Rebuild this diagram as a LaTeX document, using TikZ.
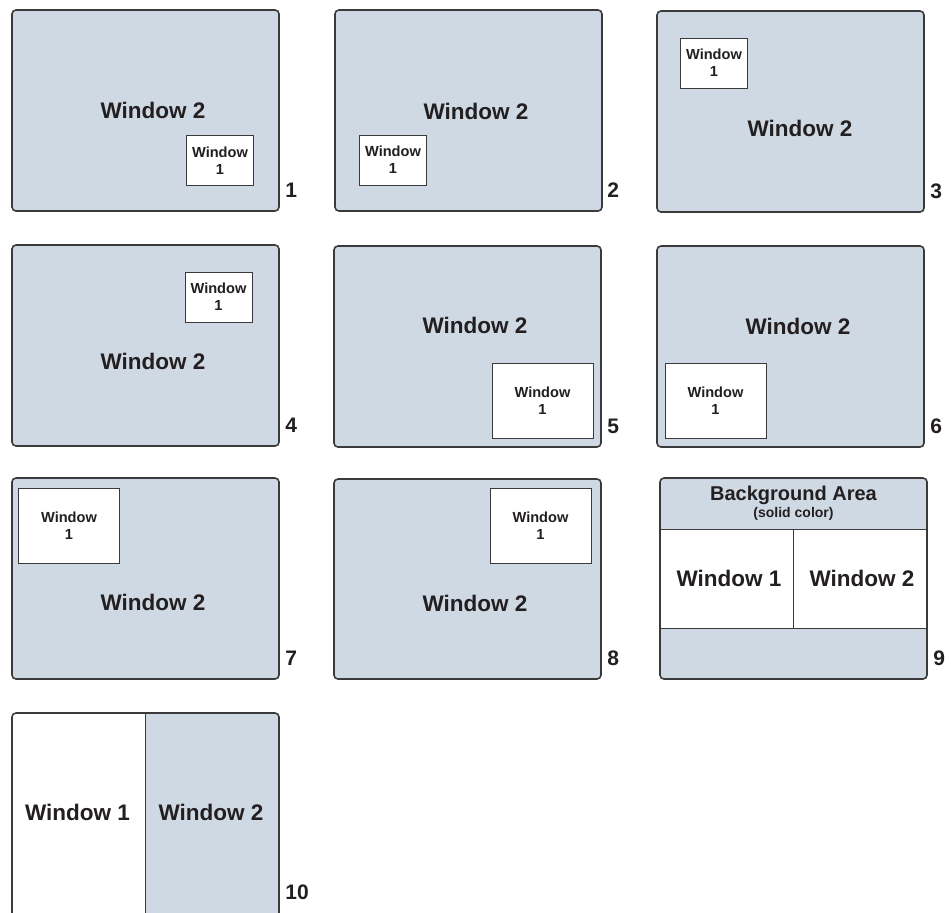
\documentclass[tikz,border=0pt]{standalone}
\usepackage{fontspec}
\setmainfont{Liberation Sans}
\usepackage{tikz}
\usetikzlibrary{positioning}
\definecolor{panelblue}{RGB}{207,217,228}
\definecolor{edgegray}{RGB}{58,58,58}
\definecolor{inkblack}{RGB}{35,31,32}
\tikzset{panel/.style = {draw=edgegray, fill=panelblue, line width=0.8pt, rounded corners=2pt}}
\tikzset{rim/.style = {draw=edgegray, line width=0.8pt, rounded corners=2pt}}
\tikzset{divider/.style = {draw=edgegray, line width=0.5pt}}
\tikzset{bigtxt/.style = {text=inkblack, inner sep=0, font=\bfseries\fontsize{11.25}{13}\selectfont}}
\tikzset{smallwin/.style = {draw=edgegray, fill=white, line width=0.5pt, inner sep=0, align=center,
    text=inkblack, font=\bfseries\fontsize{7.3}{8.5}\selectfont, minimum width=33.5pt, minimum height=25pt}}
\tikzset{largewin/.style = {smallwin, minimum width=50.5pt, minimum height=37.5pt}}
\tikzset{num/.style = {anchor=base west, inner sep=0, text=inkblack, font=\bfseries\fontsize{10.5}{12}\selectfont}}
\tikzset{every picture/.style={x=0.5pt, y=-0.5pt}}

\begin{document}
\begin{tikzpicture}
    \clip (0,0) rectangle (951,912);
    \fill[white] (0,0) rectangle (951,912);

    % row 1
    \draw[panel] (12,10) rectangle (279,211);
    \node[bigtxt] (w2a) at (153,110) {Window 2};
    \node[smallwin] (w1a) at (220,160.5) {Window\\1};
    \node[num] (n1) at (285,197) {1};

    \draw[panel] (335,10) rectangle (602,211);
    \node[bigtxt] (w2b) at (476,111) {Window 2};
    \node[smallwin] (w1b) at (393,160) {Window\\1};
    \node[num] (n2) at (607,197) {2};

    \draw[panel] (657,11) rectangle (924,212);
    \node[bigtxt] (w2c) at (800,128) {Window 2};
    \node[smallwin] (w1c) at (714,63) {Window\\1};
    \node[num] (n3) at (930,198) {3};

    % row 2
    \draw[panel] (12,245) rectangle (279,446);
    \node[bigtxt] (w2d) at (153,361) {Window 2};
    \node[smallwin] (w1d) at (218.5,297) {Window\\1};
    \node[num] (n4) at (285,432) {4};

    \draw[panel] (334,246) rectangle (601,447);
    \node[bigtxt] (w2e) at (475,325) {Window 2};
    \node[largewin] (w1e) at (542.5,401) {Window\\1};
    \node[num] (n5) at (607,433) {5};

    \draw[panel] (657,246) rectangle (924,447);
    \node[bigtxt] (w2f) at (798,326) {Window 2};
    \node[largewin] (w1f) at (715.5,400.5) {Window\\1};
    \node[num] (n6) at (930,433) {6};

    % row 3
    \draw[panel] (12,478) rectangle (279,679);
    \node[bigtxt] (w2g) at (153,602) {Window 2};
    \node[largewin] (w1g) at (69,525.5) {Window\\1};
    \node[num] (n7) at (285,665) {7};

    \draw[panel] (334,479) rectangle (601,679);
    \node[bigtxt] (w2h) at (475,603) {Window 2};
    \node[largewin] (w1h) at (540.5,525.5) {Window\\1};
    \node[num] (n8) at (607,665) {8};

    \fill[panelblue, rounded corners=2pt] (660,478) rectangle (927,679);
    \fill[white] (660,529) rectangle (927,628);
    \draw[divider] (660,529) -- (927,529);
    \draw[divider] (660,628) -- (927,628);
    \draw[divider] (793,529) -- (793,628);
    \draw[rim] (660,478) rectangle (927,679);
    \node[bigtxt, anchor=base, font=\bfseries\fontsize{10}{12}\selectfont] (bg) at (793.5,500.5) {Background Area};
    \node[bigtxt, anchor=base, font=\bfseries\fontsize{7}{8}\selectfont] (solid) at (793.5,517) {(solid color)};
    \node[bigtxt, anchor=base] (w1i) at (729,586.5) {Window 1};
    \node[bigtxt, anchor=base] (w2i) at (862,586.5) {Window 2};
    \node[num] (n9) at (933,665) {9};

    % row 4
    \begin{scope}
      \clip[rounded corners=2pt] (12,713) rectangle (279,930);
      \fill[white] (12,713) rectangle (145,930);
      \fill[panelblue] (145,713) rectangle (279,930);
    \end{scope}
    \draw[divider] (145,713) -- (145,930);
    \draw[rim] (12,713) rectangle (279,930);
    \node[bigtxt, anchor=base] (w1j) at (77.5,820) {Window 1};
    \node[bigtxt, anchor=base] (w2j) at (211,820) {Window 2};
    \node[num] (n10) at (285,899) {10};
\end{tikzpicture}
\end{document}
